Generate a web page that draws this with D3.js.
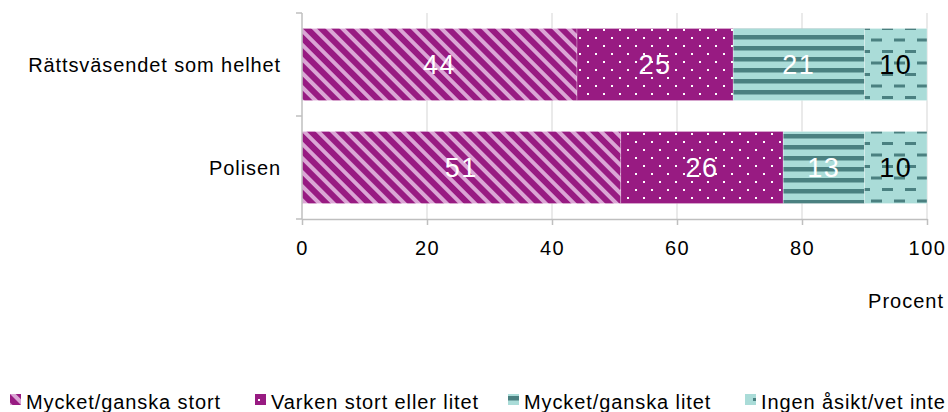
<!DOCTYPE html>
<html><head><meta charset="utf-8">
<script src="https://cdn.jsdelivr.net/npm/d3@7"></script>
<style>body{margin:0;background:#fff}svg{display:block;font-family:"Liberation Sans",Arial,sans-serif}</style>
</head><body><svg id="c" width="948" height="412"></svg>
<script>
const categories = ["Rättsväsendet som helhet", "Polisen"];
const seriesNames = ["Mycket/ganska stort", "Varken stort eller litet", "Mycket/ganska litet", "Ingen åsikt/vet inte"];
const seriesValues = [
  [44, 51],
  [25, 26],
  [21, 13],
  [10, 10]
];
const xTicks = [0, 20, 40, 60, 80, 100];
const xTitle = "Procent";

const svg = d3.select("#c");
const defs = svg.append("defs");
const purple = "#981b82", pink = "#dba6d5", tealD = "#4a8080", tealL = "#aadcd8";

// pattern 0: diagonal stripes
let p = defs.append("pattern").attr("id","p0").attr("patternUnits","userSpaceOnUse")
  .attr("width",10).attr("height",10).attr("patternTransform","rotate(-45)");
p.append("rect").attr("width",10).attr("height",10).attr("fill",purple);
p.append("rect").attr("width",4).attr("height",10).attr("fill",pink);
// pattern 1: dots
p = defs.append("pattern").attr("id","p1").attr("patternUnits","userSpaceOnUse").attr("width",16).attr("height",16);
p.append("rect").attr("width",16).attr("height",16).attr("fill",purple);
p.append("rect").attr("x",3).attr("y",5).attr("width",2).attr("height",2).attr("fill","#fff");
p.append("rect").attr("x",11).attr("y",13).attr("width",2).attr("height",2).attr("fill","#fff");
// pattern 2: horizontal stripes
p = defs.append("pattern").attr("id","p2").attr("patternUnits","userSpaceOnUse").attr("width",10).attr("height",11);
p.append("rect").attr("width",10).attr("height",11).attr("fill",tealL);
p.append("rect").attr("y",2).attr("width",10).attr("height",4.5).attr("fill",tealD);
// pattern 3: dashes
p = defs.append("pattern").attr("id","p3").attr("patternUnits","userSpaceOnUse").attr("width",23).attr("height",23);
p.append("rect").attr("width",23).attr("height",23).attr("fill",tealL);
p.append("rect").attr("x",8).attr("y",4).attr("width",11).attr("height",3).attr("fill",tealD);
p.append("rect").attr("x",-3).attr("y",15.5).attr("width",11).attr("height",3).attr("fill",tealD);
p.append("rect").attr("x",20).attr("y",15.5).attr("width",11).attr("height",3).attr("fill",tealD);
const fills = ["url(#p0)","url(#p1)","url(#p2)","url(#p3)"];
const labelColors = ["#fff","#fff","#fff","#000"];

const x = d3.scaleLinear().domain([0,100]).range([302,927]);
const y = d3.scaleBand().domain(categories).range([13,219]).paddingInner(0.3).paddingOuter(0.15);

// grid
svg.append("g").selectAll("line").data(xTicks.slice(1)).join("line")
  .attr("x1",d=>x(d)).attr("x2",d=>x(d)).attr("y1",13).attr("y2",219)
  .attr("stroke","#dcdcdc").attr("stroke-width",1.2);

// stacked data
const stackData = categories.map((c,i)=>{const o={cat:c}; seriesNames.forEach((s,j)=>o[s]=seriesValues[j][i]); return o;});
const stacked = d3.stack().keys(seriesNames)(stackData);

const g = svg.append("g");
stacked.forEach((layer,j)=>{
  g.append("g").selectAll("rect").data(layer).join("rect")
    .attr("x",d=>x(d[0])).attr("width",d=>x(d[1])-x(d[0]))
    .attr("y",d=>y(d.data.cat)).attr("height",y.bandwidth())
    .attr("fill",fills[j]).attr("stroke","rgba(255,255,255,0.35)").attr("stroke-width",0.8);
});
stacked.forEach((layer,j)=>{
  g.append("g").selectAll("text").data(layer).join("text")
    .attr("x",d=>(x(d[0])+x(d[1]))/2).attr("y",d=>y(d.data.cat)+y.bandwidth()/2)
    .attr("dy","0.36em").attr("text-anchor","middle").attr("font-size",27)
    .attr("letter-spacing",1.5).attr("fill",labelColors[j]).text(d=>d[1]-d[0]);
});

// axes
const axisColor = "#bfbfbf";
const xa = svg.append("g").attr("transform","translate(0,219)")
  .call(d3.axisBottom(x).tickValues(xTicks).tickSize(6).tickPadding(16).tickSizeOuter(0));
xa.select(".domain").attr("stroke",axisColor).attr("stroke-width",1.5);
xa.selectAll(".tick line").attr("stroke",axisColor).attr("stroke-width",1.5);
xa.selectAll(".tick text").attr("font-size",20).attr("letter-spacing",1.5).attr("fill","#000").attr("font-family","Liberation Sans, Arial, sans-serif");

const yTickPos = [13,116,219];
svg.append("line").attr("x1",302).attr("x2",302).attr("y1",13).attr("y2",219).attr("stroke",axisColor).attr("stroke-width",1.5);
svg.append("g").selectAll("line").data(yTickPos).join("line")
  .attr("x1",296).attr("x2",302).attr("y1",d=>d).attr("y2",d=>d).attr("stroke",axisColor).attr("stroke-width",1.5);
svg.append("g").selectAll("text").data(categories).join("text")
  .attr("x",281).attr("y",d=>y(d)+y.bandwidth()/2).attr("dy","0.36em")
  .attr("text-anchor","end").attr("font-size",20).attr("letter-spacing",0.9).attr("fill","#000").text(d=>d);

svg.append("text").attr("x",944).attr("y",308).attr("text-anchor","end").attr("font-size",20).attr("letter-spacing",1).attr("fill","#000").text(xTitle);

// legend
const legX = [10, 255, 508, 745];
const leg = svg.append("g").selectAll("g").data(seriesNames).join("g")
  .attr("transform",(d,i)=>`translate(${legX[i]},394)`);
leg.append("rect").attr("width",11).attr("height",11).attr("fill",(d,i)=>fills[i]);
leg.append("text").attr("x",16).attr("y",15).attr("font-size",20).attr("letter-spacing",0.9).attr("fill","#000").text(d=>d);
</script></body></html>
